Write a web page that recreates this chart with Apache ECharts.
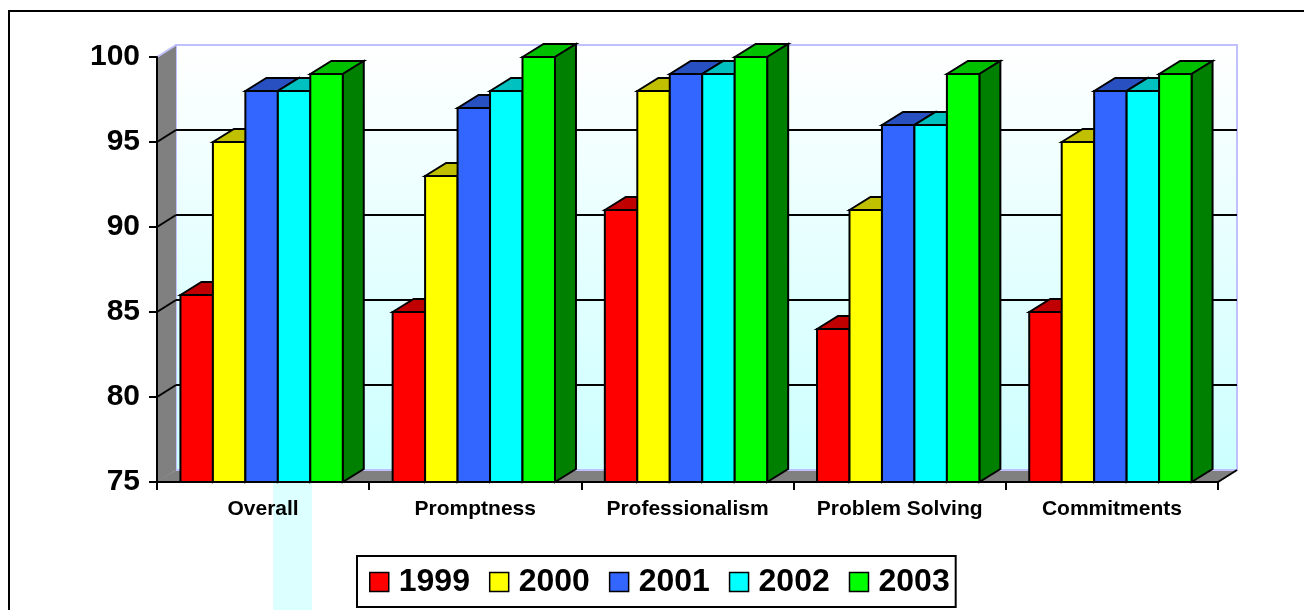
<!DOCTYPE html>
<html>
<head>
<meta charset="utf-8">
<script src="https://cdn.jsdelivr.net/npm/echarts@6/dist/echarts.min.js"></script>
<style>
  html, body { margin: 0; padding: 0; background: #fff; }
  #chart { width: 1304px; height: 610px; }
</style>
</head>
<body>
<div id="chart"></div>
<script>
const categories = ['Overall', 'Promptness', 'Professionalism', 'Problem Solving', 'Commitments'];
const years = ['1999', '2000', '2001', '2002', '2003'];
const yTicks = [75, 80, 85, 90, 95, 100];

const v1999 = [86, 85, 91, 84, 85];
const v2000 = [95, 93, 98, 91, 95];
const v2001 = [98, 97, 99, 96, 98];
const v2002 = [98, 98, 99, 96, 98];
const v2003 = [99, 100, 100, 99, 99];
const values = [v1999, v2000, v2001, v2002, v2003];

// front / top / side colours for each year
const frontColors = ['#ff0000', '#ffff00', '#3366ff', '#00ffff', '#00ff00'];
const topColors = ['#c00000', '#c0c000', '#2850c0', '#00c0c0', '#00c000'];
const sideColors = ['#a00000', '#a0a000', '#2040a0', '#00a0a0', '#008000'];

const wallDx = 19, wallDy = -12;
const barDx = 21, barDy = -13;
const yMin = 75;

const chart = echarts.init(document.getElementById('chart'));

const wallsSeries = {
    type: 'custom',
    name: 'walls',
    silent: true,
    z: 1,
    data: [[0, yMin]],
    renderItem: (params, api) => {
        const cs = params.coordSys;
        const x0 = cs.x, x1 = cs.x + cs.width;
        const yTop = cs.y, yBot = cs.y + cs.height;
        const children = [];
        children.push({
            type: 'rect',
            shape: {x: x0 + wallDx, y: yTop + wallDy, width: cs.width, height: cs.height},
            style: {
                fill: new echarts.graphic.LinearGradient(0, 0, 0, 1, [
                    {offset: 0, color: '#ffffff'},
                    {offset: 1, color: '#ccffff'}
                ]),
                stroke: '#c0c0ff', lineWidth: 2
            }
        });
        // left side wall
        children.push({
            type: 'polygon',
            shape: {points: [[x0 + 1, yTop], [x0 + wallDx, yTop + wallDy], [x0 + wallDx, yBot + wallDy], [x0 + 1, yBot]]},
            style: {fill: '#808080'}
        });
        // floor
        children.push({
            type: 'polygon',
            shape: {points: [[x0, yBot], [x0 + wallDx, yBot + wallDy], [x1 + wallDx, yBot + wallDy], [x1, yBot]]},
            style: {fill: '#808080'}
        });
        children.push({
            type: 'line',
            shape: {x1: x0 + wallDx, y1: yBot + wallDy, x2: x1 + wallDx, y2: yBot + wallDy},
            style: {stroke: '#c0c0ff', lineWidth: 2}
        });
        children.push({
            type: 'line',
            shape: {x1: x0, y1: yTop, x2: x0 + wallDx, y2: yTop + wallDy},
            style: {stroke: '#c0c0ff', lineWidth: 2}
        });
        children.push({
            type: 'line',
            shape: {x1: x1, y1: yBot, x2: x1 + wallDx, y2: yBot + wallDy},
            style: {stroke: '#000', lineWidth: 2}
        });
        yTicks.forEach(v => {
            if (v === yMin || v === yTicks[yTicks.length - 1]) return;
            const y = api.coord([0, v])[1];
            children.push({
                type: 'line',
                shape: {x1: x0 + wallDx, y1: y + wallDy, x2: x1 + wallDx, y2: y + wallDy},
                style: {stroke: '#000', lineWidth: 2}
            });
            children.push({
                type: 'line',
                shape: {x1: x0, y1: y, x2: x0 + wallDx, y2: y + wallDy},
                style: {stroke: '#000', lineWidth: 2}
            });
        });
        return {type: 'group', children};
    }
};

const barSeries = years.map((year, k) => ({
    type: 'custom',
    name: year,
    z: 2 + k,
    itemStyle: {color: frontColors[k], borderColor: '#000', borderWidth: 1.5},
    data: values[k].map((v, i) => [i, v]),
    renderItem: (params, api) => {
        const idx = api.value(0);
        const top = api.coord([idx, api.value(1)]);
        const base = api.coord([idx, yMin]);
        const catW = api.size([1, 0])[0];
        const barW = catW * 0.153;
        const x0 = top[0] - barW * 2.5 - 1.5 + k * barW;
        const x1 = x0 + barW;
        const yt = top[1], yb = base[1];
        const line = {stroke: '#000', lineWidth: 2, lineJoin: 'miter'};
        return {
            type: 'group',
            children: [
                {
                    type: 'polygon',
                    shape: {points: [[x0, yt], [x0 + barDx, yt + barDy], [x1 + barDx, yt + barDy], [x1, yt]]},
                    style: Object.assign({fill: topColors[k]}, line)
                },
                {
                    type: 'polygon',
                    shape: {points: [[x1, yt], [x1 + barDx, yt + barDy], [x1 + barDx, yb + barDy], [x1, yb]]},
                    style: Object.assign({fill: sideColors[k]}, line)
                },
                {
                    type: 'rect',
                    shape: {x: x0, y: yt, width: barW, height: yb - yt},
                    style: Object.assign({fill: frontColors[k]}, line)
                }
            ]
        };
    }
}));

chart.setOption({
    animation: false,
    backgroundColor: '#fff',
    graphic: [
        {
            type: 'rect', z: -1, silent: true,
            shape: {x: 273, y: 483, width: 39, height: 130},
            style: {fill: '#dcffff'}
        },
        {
            type: 'rect', z: 100, silent: true,
            shape: {x: 9, y: 11, width: 1400, height: 700},
            style: {fill: 'none', stroke: '#000', lineWidth: 2}
        }
    ],
    grid: {left: 157, right: 86, top: 57, bottom: 128},
    legend: {
        data: years,
        left: 357,
        top: 556,
        orient: 'horizontal',
        icon: 'rect',
        itemWidth: 19,
        itemHeight: 19,
        itemGap: 19,
        padding: [10, 6, 9, 12],
        borderColor: '#000',
        borderWidth: 2,
        backgroundColor: '#fff',
        itemStyle: {borderColor: '#000', borderWidth: 1.5},
        textStyle: {
            fontFamily: 'Liberation Sans, Arial, sans-serif',
            fontWeight: 'bold',
            fontSize: 32,
            color: '#000',
            padding: [0, 0, 0, 5]
        }
    },
    xAxis: {
        type: 'category',
        data: categories,
        z: 10,
        axisLine: {lineStyle: {color: '#000', width: 2}},
        axisTick: {show: true, interval: 0, length: 8, lineStyle: {color: '#000', width: 2}},
        axisLabel: {
            interval: 0,
            hideOverlap: false,
            fontFamily: 'Liberation Sans, Arial, sans-serif',
            fontWeight: 'bold',
            fontSize: 21,
            color: '#000',
            margin: 17
        },
        splitLine: {show: false}
    },
    yAxis: {
        type: 'value',
        min: 75,
        max: 100,
        interval: 5,
        z: 10,
        axisLine: {show: true, lineStyle: {color: '#000', width: 2}},
        axisTick: {show: true, length: 8, lineStyle: {color: '#000', width: 2}},
        axisLabel: {
            fontFamily: 'Liberation Sans, Arial, sans-serif',
            fontWeight: 'bold',
            fontSize: 30,
            color: '#000',
            margin: 17
        },
        splitLine: {show: false}
    },
    series: [wallsSeries].concat(barSeries)
});
</script>
</body>
</html>
